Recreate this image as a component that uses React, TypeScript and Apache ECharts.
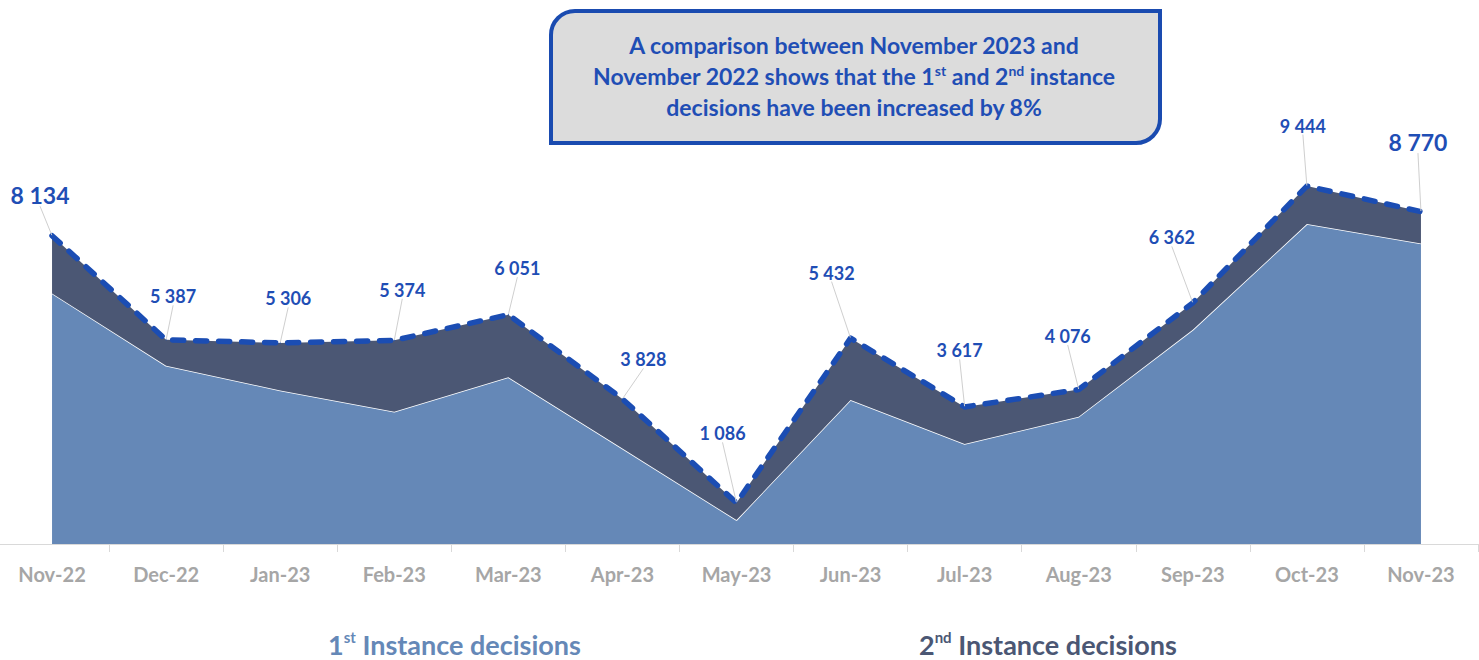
import React, { useEffect, useRef } from "react";
import * as echarts from "echarts";

const months = ["Nov-22", "Dec-22", "Jan-23", "Feb-23", "Mar-23", "Apr-23", "May-23", "Jun-23", "Jul-23", "Aug-23", "Sep-23", "Oct-23", "Nov-23"];
const totals = [8134, 5387, 5306, 5374, 6051, 3828, 1086, 5432, 3617, 4076, 6362, 9444, 8770];
const firstInstance = [6610, 4700, 4050, 3490, 4400, 2520, 630, 3800, 2640, 3360, 5650, 8440, 7930];
const secondInstance = [1524, 687, 1256, 1884, 1651, 1308, 456, 1632, 977, 716, 712, 1004, 840];
const bigLabelIdx = [0, 12];
const labelOffsets: [number, number][] = [
  [-12, -24], [7, -29], [8, -30], [8, -36], [9, -32], [21, -25], [-14, -55],
  [-19, -51], [-5, -42], [-11, -39], [-21, -51], [-4, -46], [-3, -53],
];

const FONT = "Lato, 'Open Sans', sans-serif";
const BLUE = "#1B4DB3";
const LIGHT = "#6588B7";
const DARK = "#4B5774";

const fmt = (n: number) => String(n).replace(/\B(?=(\d{3})+(?!\d))/g, " ");

export default function App() {
  const ref = useRef<HTMLDivElement>(null);
  useEffect(() => {
    if (!ref.current) return;
    const chart = echarts.init(ref.current, null, { renderer: "svg" });
    const option: any = {
      animation: false,
      backgroundColor: "#FFFFFF",
      grid: { left: 0, right: 1, top: 165, bottom: 116, containLabel: false },
      xAxis: {
        type: "category",
        data: months,
        boundaryGap: true,
        axisLine: { show: true, lineStyle: { color: "#D9D9D9", width: 1 } },
        axisTick: { show: true, length: 8, lineStyle: { color: "#D9D9D9" } },
        axisLabel: { color: "#A6A6A6", fontWeight: "bold", fontSize: 20, fontFamily: FONT, margin: 20 },
        splitLine: { show: false },
      },
      yAxis: { type: "value", min: 0, max: 10000, show: false, splitLine: { show: false } },
      legend: [
        {
          left: 328, top: 629, icon: "rect", itemWidth: 0, itemHeight: 0, selectedMode: false, padding: 0,
          data: ["1st Instance decisions"],
          formatter: () => "{n|1}{s|st}{n| Instance decisions}",
          textStyle: {
            rich: {
              n: { fontSize: 27, fontWeight: "bold", color: LIGHT, fontFamily: FONT, lineHeight: 30 },
              s: { fontSize: 15, fontWeight: "bold", color: LIGHT, fontFamily: FONT, verticalAlign: "top", lineHeight: 18 },
            },
          },
        },
        {
          left: 919, top: 629, icon: "rect", itemWidth: 0, itemHeight: 0, selectedMode: false, padding: 0,
          data: ["2nd Instance decisions"],
          formatter: () => "{n|2}{s|nd}{n| Instance decisions}",
          textStyle: {
            rich: {
              n: { fontSize: 27, fontWeight: "bold", color: DARK, fontFamily: FONT, lineHeight: 30 },
              s: { fontSize: 15, fontWeight: "bold", color: DARK, fontFamily: FONT, verticalAlign: "top", lineHeight: 18 },
            },
          },
        },
      ],
      series: [
        {
          name: "1st Instance decisions",
          type: "line",
          stack: "total",
          data: firstInstance,
          showSymbol: false,
          symbol: "none",
          itemStyle: { color: LIGHT },
          lineStyle: { color: "#FFFFFF", width: 1.5 },
          areaStyle: { color: LIGHT, opacity: 1 },
          z: 2,
        },
        {
          name: "2nd Instance decisions",
          type: "line",
          stack: "total",
          data: secondInstance.map((v, i) => ({
            value: v,
            label: bigLabelIdx.includes(i) ? { fontSize: 23 } : undefined,
          })),
          showSymbol: true,
          symbol: "circle",
          symbolSize: 1,
          itemStyle: { color: BLUE },
          lineStyle: { color: BLUE, width: 5.5, type: [11, 12], cap: "round", join: "round" },
          areaStyle: { color: DARK, opacity: 1 },
          label: {
            show: true,
            position: "top",
            distance: 5,
            color: "#1F4EB5",
            fontWeight: "bold",
            fontSize: 18,
            fontFamily: FONT,
            formatter: (p: any) => fmt(totals[p.dataIndex]),
          },
          labelLine: { show: true, lineStyle: { color: "#CFCFCF", width: 1 } },
          labelLayout: (p: any) => ({ dx: labelOffsets[p.dataIndex][0], dy: labelOffsets[p.dataIndex][1] }),
          z: 3,
        },
      ],
      graphic: [
        {
          type: "group",
          left: 554,
          top: 9,
          children: [
            {
              type: "rect",
              shape: { x: 0, y: 0, width: 609, height: 132, r: [24, 0, 24, 0] },
              style: { fill: "#DCDCDC", stroke: "#1A4BB0", lineWidth: 4 },
            },
            {
              type: "text",
              x: 303,
              y: 65,
              style: {
                text: "{t|A comparison between November 2023 and}\n{t|November 2022 shows that the 1}{s|st}{t| and 2}{s|nd}{t| instance}\n{t|decisions have been increased by 8%}",
                align: "center",
                verticalAlign: "middle",
                rich: {
                  t: { fontSize: 23, fontWeight: "bold", fill: "#1F4EB5", fontFamily: FONT, lineHeight: 31 },
                  s: { fontSize: 14, fontWeight: "bold", fill: "#1F4EB5", fontFamily: FONT, lineHeight: 31, verticalAlign: "top", padding: [3, 0, 0, 0] },
                },
              },
            },
          ],
        },
      ],
    };
    chart.setOption(option);
    return () => chart.dispose();
  }, []);
  return <div ref={ref} style={{ position: "absolute", left: -5, top: 0, width: 1484, height: 660 }} />;
}
